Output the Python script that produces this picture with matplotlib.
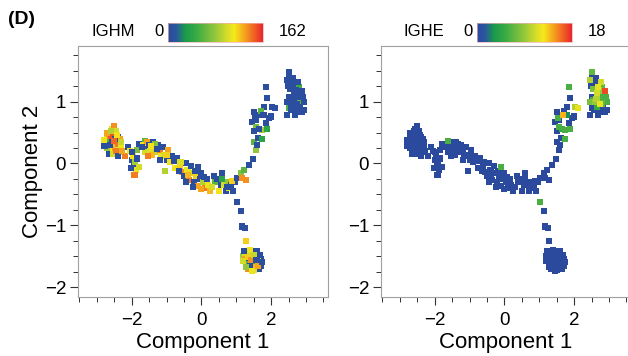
import numpy as np
import matplotlib
matplotlib.use('Agg')
from matplotlib import pyplot as plt
from matplotlib.colors import LinearSegmentedColormap, Normalize
from matplotlib.ticker import MultipleLocator

plt.rcParams['font.family'] = ['Liberation Sans', 'DejaVu Sans']

# pseudotime embedding (same cells in both panels)
comp1 = [
    # left blob
    -2.75, -2.72, -2.68, -2.65, -2.62, -2.60, -2.57, -2.55, -2.52, -2.50, -2.48, -2.45, -2.42,
    -2.40, -2.38, -2.36, -2.64, -2.52, -2.44, -2.34, -2.30, -2.72, -2.58, -2.20, -2.10,
    -2.80, -2.78, -2.70, -2.66, -2.60, -2.56, -2.54, -2.48, -2.46, -2.42, -2.40, -2.32, -2.28, -2.62, -2.50,
    # dip
    -2.00, -1.96, -1.94, -1.90, -1.88, -1.92, -1.85, -1.84, -2.05, -1.80, -2.02, -1.98,
    # arc
    -1.78, -1.63, -1.68, -1.60, -1.55, -1.50, -1.46, -1.40, -1.36, -1.30, -1.25, -1.20, -1.16,
    -1.10, -1.06, -1.00, -0.96, -0.90, -0.85, -1.20, -1.42, -1.62, -1.52, -1.04, -0.80, -0.75, -1.32,
    -1.70, -1.45, -1.28, -0.98,
    # band
    -0.70, -0.62, -0.56, -0.50, -0.45, -0.40, -0.35, -0.30, -0.25, -0.20, -0.15, -0.10, -0.10,
    -0.05, 0.00, 0.05, 0.10, 0.15, 0.20, 0.25, -0.45, -0.60, 0.00, -0.25,
    0.35, 0.40, 0.45, 0.50, 0.55, 0.60, 0.65, 0.70, 0.75, 0.80, 0.85, 0.90, 0.95, 0.60,
    -0.65, -0.38, -0.18, 0.08, 0.30, 0.72, 0.88,
    # stalk down
    1.03, 1.13, 1.15, 1.24, 1.28,
    # bottom blob
    1.20, 1.25, 1.30, 1.35, 1.40, 1.45, 1.50, 1.55, 1.60, 1.65, 1.70, 1.35, 1.50, 1.40,
    1.58, 1.30, 1.45, 1.55, 1.25, 1.72, 1.48, 1.62,
    1.18, 1.22, 1.33, 1.38, 1.42, 1.52, 1.58, 1.62, 1.68, 1.44, 1.27, 1.73,
    # branch up
    1.03, 1.14, 1.17, 1.23, 1.29, 1.37, 1.49, 1.57, 1.51, 1.63, 1.74, 1.60,
    # middle upper cluster
    1.86, 1.89, 1.80, 1.51, 1.66, 1.46, 1.57, 1.69, 1.94, 2.03, 2.10, 1.74, 1.66, 1.70,
    1.84, 1.55, 1.89, 2.00, 1.78, 1.50, 1.54,
    # top right cluster
    2.51, 2.46, 2.57, 2.69, 2.80, 2.89, 2.66, 2.51, 2.74, 2.86, 2.46, 2.54, 2.51, 2.66,
    2.71, 2.89, 2.46, 2.60, 2.80, 2.94, 2.62, 2.55, 2.74, 2.95, 2.58,
    2.48, 2.52, 2.64, 2.70, 2.78, 2.84, 2.56, 2.92, 2.68, 2.76, 2.60,
]
comp2 = [
    0.32, 0.40, 0.28, 0.45, 0.35, 0.24, 0.55, 0.38, 0.30, 0.20, 0.48, 0.36, 0.26,
    0.42, 0.32, 0.18, 0.20, 0.60, 0.52, 0.40, 0.28, 0.25, 0.44, 0.12, 0.26,
    0.38, 0.28, 0.50, 0.15, 0.52, 0.30, 0.16, 0.40, 0.20, 0.46, 0.12, 0.34, 0.20, 0.30, 0.36,
    0.06, 0.12, -0.04, 0.02, -0.10, -0.18, 0.08, 0.22, 0.20, -0.05, -0.08, 0.18,
    0.32, 0.37, 0.30, 0.24, 0.34, 0.30, 0.20, 0.34, 0.26, 0.18, 0.30, 0.22, 0.12,
    0.26, 0.14, 0.06, 0.22, 0.02, 0.12, 0.06, 0.14, 0.18, 0.12, -0.12, 0.04, -0.08, 0.32,
    0.26, 0.28, 0.24, 0.14,
    0.08, -0.04, -0.14, -0.20, 0.00, -0.10, -0.26, -0.04, -0.15, -0.30, -0.20, -0.36, -0.05,
    -0.25, -0.15, -0.30, -0.40, -0.25, -0.35, -0.45, -0.30, 0.02, -0.42, -0.38,
    -0.20, -0.30, -0.25, -0.45, -0.35, -0.15, -0.35, -0.45, -0.30, -0.40, -0.35, -0.45, -0.30, -0.25,
    -0.12, -0.18, -0.12, -0.22, -0.38, -0.38, -0.28,
    -0.62, -0.77, -1.02, -1.05, -1.25,
    -1.50, -1.55, -1.45, -1.60, -1.50, -1.65, -1.55, -1.45, -1.60, -1.70, -1.55, -1.70, -1.72, -1.40,
    -1.42, -1.62, -1.50, -1.65, -1.45, -1.66, -1.58, -1.52,
    -1.58, -1.42, -1.52, -1.66, -1.56, -1.48, -1.56, -1.66, -1.48, -1.74, -1.67, -1.60,
    -0.24, -0.16, -0.24, -0.11, -0.27, -0.03, 0.07, 0.22, 0.35, 0.41, 0.39, 0.30,
    1.24, 1.06, 0.91, 0.83, 0.78, 0.67, 0.59, 0.79, 0.73, 0.91, 0.90, 0.54, 0.55, 0.85,
    0.66, 0.70, 0.55, 0.76, 0.78, 0.52, 0.74,
    1.48, 1.35, 1.30, 1.24, 1.24, 1.17, 1.14, 1.08, 1.08, 1.03, 1.00, 1.03, 0.90, 0.92,
    0.83, 0.83, 0.78, 1.00, 0.97, 1.00, 1.38, 1.20, 0.96, 0.86, 0.86,
    1.25, 1.40, 1.05, 1.18, 1.12, 0.92, 0.95, 1.08, 0.78, 1.32, 1.30,
]
ighm = [
    5, 120, 100, 135, 60, 140, 110, 5, 90, 130, 70, 125, 105,
    5, 140, 95, 115, 135, 100, 130, 110, 80, 150, 140, 5,
    110, 5, 130, 5, 90, 125, 100, 5, 140, 115, 5, 95, 130, 5, 145,
    5, 115, 5, 85, 110, 140, 5, 70, 110, 100, 5, 5,
    5, 60, 115, 5, 130, 5, 105, 5, 120, 95, 5, 140, 110,
    5, 100, 5, 130, 115, 5, 5, 125, 100, 140, 90, 5, 110, 75,
    5, 115, 5, 120,
    5, 120, 135, 5, 5, 110, 140, 5, 100, 5, 120, 130, 5,
    5, 5, 90, 140, 5, 110, 125, 5, 105, 130, 5,
    5, 60, 5, 115, 5, 5, 100, 5, 80, 110, 5, 5, 5, 40,
    5, 125, 5, 5, 100, 5, 120,
    5, 5, 5, 5, 120,
    85, 130, 110, 5, 100, 140, 70, 5, 115, 5, 5, 135, 105, 115,
    5, 60, 90, 125, 100, 5, 50, 110,
    100, 5, 120, 5, 135, 95, 5, 130, 5, 110, 80, 5,
    5, 75, 135, 60, 135, 5, 5, 80, 60, 5, 40, 5,
    5, 5, 5, 5, 5, 5, 70, 5, 5, 5, 5, 85, 5, 60,
    5, 5, 40, 5, 5, 5, 5,
    5, 5, 5, 5, 50, 5, 5, 5, 5, 5, 5, 5, 55, 5,
    5, 5, 5, 5, 60, 5, 5, 5, 5, 5, 5,
    5, 5, 5, 5, 5, 5, 5, 5, 5, 5, 5,
]
ighe = [
    0, 0, 0, 0, 0, 0, 0, 0, 0, 0, 0, 0, 0,
    0, 0, 0, 0, 0, 0, 0, 0, 0, 0, 0, 0,
    0, 0, 0, 0, 0, 0, 0, 0, 0, 0, 0, 0, 0, 0, 0,
    0, 0, 0, 0, 0, 0, 0, 0, 0, 0, 0, 0,
    0, 6, 0, 0, 0, 0, 0, 0, 0, 0, 0, 0, 0,
    0, 0, 0, 0, 0, 0, 0, 0, 0, 0, 0, 0, 0, 0,
    0, 0, 0, 0,
    0, 0, 0, 0, 0, 0, 0, 0, 0, 0, 0, 0, 6,
    0, 0, 0, 0, 0, 0, 0, 0, 0, 0, 0,
    0, 0, 0, 0, 0, 0, 0, 0, 0, 0, 0, 0, 0, 0,
    0, 0, 0, 0, 0, 0, 0,
    6, 0, 0, 0, 0,
    0, 0, 0, 0, 0, 0, 0, 0, 0, 0, 0, 0, 0, 0,
    0, 0, 0, 0, 0, 0, 0, 0,
    0, 0, 0, 0, 0, 0, 0, 0, 0, 0, 0, 0,
    0, 0, 0, 0, 0, 0, 0, 0, 0, 0, 6, 0,
    6, 0, 0, 0, 0, 0, 6, 14, 0, 10, 12, 6, 5, 0,
    0, 0, 6, 0, 3, 0, 6,
    7, 10, 0, 12, 7, 17, 11, 0, 6, 0, 8, 6, 0, 5,
    0, 0, 0, 9, 7, 6, 0, 8, 12, 0, 0,
    0, 0, 10, 9, 0, 0, 0, 6, 0, 11, 0,
]

cmap = LinearSegmentedColormap.from_list('expr', [
    (0.00, '#2b4a9e'), (0.08, '#2a55a0'), (0.18, '#1a9a4a'), (0.30, '#3aaa45'),
    (0.48, '#8cc43c'), (0.62, '#d4dc2a'), (0.70, '#f5e81a'), (0.82, '#f59a1e'),
    (1.00, '#e8252a')])

x1 = np.array(comp1)
y1 = np.array(comp2)

fig = plt.figure(figsize=(6.28, 3.56), dpi=100)
panels = [
    ('IGHM', np.array(ighm), 162, 78, 168),
    ('IGHE', np.array(ighe), 18, 381, 477),
]

for name, vals, vmax, left_px, cb_px in panels:
    ax = fig.add_axes([left_px / 628, 59 / 356, 250 / 628, 251 / 356])
    norm = Normalize(0, vmax)
    if name == 'IGHE':
        order = np.argsort(vals, kind='stable')
    else:
        order = np.arange(len(vals))
    sc = ax.scatter(x1[order], y1[order], c=vals[order], cmap=cmap, norm=norm,
                    marker='s', s=19, linewidths=0)
    ax.set_xlim(-3.54, 3.63)
    ax.set_ylim(-2.16, 1.90)
    ax.xaxis.set_major_locator(MultipleLocator(2))
    ax.xaxis.set_minor_locator(MultipleLocator(0.5))
    ax.yaxis.set_major_locator(MultipleLocator(1))
    ax.yaxis.set_minor_locator(MultipleLocator(0.25))
    for sp in ax.spines.values():
        sp.set_color('#a0a0a0')
        sp.set_linewidth(0.8)
    ax.tick_params(which='major', length=6, width=0.8, color='#333333', labelsize=13.5)
    ax.tick_params(which='minor', length=3.5, width=0.7, color='#333333')
    ax.tick_params(axis='x', which='major', pad=5)
    ax.tick_params(axis='y', which='major', pad=2.5)
    ax.set_xlabel('Component 1', fontsize=16, labelpad=2)
    if name == 'IGHM':
        ax.set_ylabel('Component 2', fontsize=16)
        ax.yaxis.set_label_coords(-0.14, 0.5)

    cax = fig.add_axes([cb_px / 628, 1 - 42 / 356, 95 / 628, 19 / 356])
    cb = fig.colorbar(sc, cax=cax, orientation='horizontal')
    cb.set_ticks([])
    cb.outline.set_edgecolor('#f0b0b0')
    cb.outline.set_linewidth(0.5)
    fig.text((cb_px - 33) / 628, 1 - 32 / 356, name, ha='right', va='center', fontsize=12)
    fig.text((cb_px - 9) / 628, 1 - 32 / 356, '0', ha='center', va='center', fontsize=12)
    fig.text((cb_px + 111) / 628, 1 - 32 / 356, str(vmax), ha='left', va='center', fontsize=12)

fig.text(8 / 628, 1 - 20 / 356, '(D)', ha='left', va='center', fontsize=14, fontweight='bold')

plt.savefig('out.png', dpi=100)
plt.close()
